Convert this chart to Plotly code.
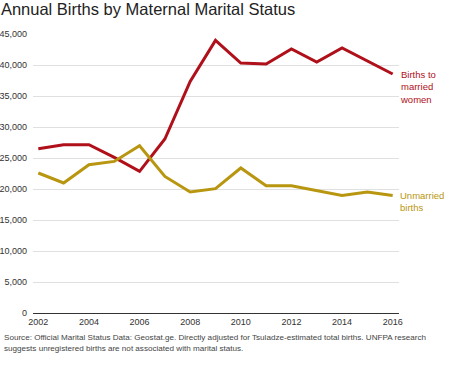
import plotly.graph_objects as go

years = list(range(2002, 2017))
married = [26500, 27150, 27150, 25100, 22850, 28060, 37350, 43970, 40320, 40160, 42580, 40480, 42740, 40700, 38550]
unmarried = [22580, 20970, 23920, 24450, 26980, 22030, 19520, 20050, 23390, 20530, 20530, 19750, 18970, 19520, 18970]
ytick_vals = [0, 5000, 10000, 15000, 20000, 25000, 30000, 35000, 40000, 45000]
ytick_text = ["0", "5,000", "10,000", "15,000", "20,000", "25,000", "30,000", "35,000", "40,000", "45,000"]
xtick_vals = [2002, 2004, 2006, 2008, 2010, 2012, 2014, 2016]

RED = "#b0101a"
GOLD = "#b8960f"
FONT = "Liberation Sans, Arial, sans-serif"

fig = go.Figure()
fig.add_trace(go.Scatter(x=years, y=married, mode="lines", line=dict(color=RED, width=3), hoverinfo="skip"))
fig.add_trace(go.Scatter(x=years, y=unmarried, mode="lines", line=dict(color=GOLD, width=3), hoverinfo="skip"))

fig.update_layout(
    width=450, height=374,
    margin=dict(l=33, r=51, t=34, b=61, autoexpand=False),
    paper_bgcolor="white", plot_bgcolor="white",
    showlegend=False,
    font=dict(family=FONT, size=9, color="#333"),
    title=dict(text="Annual Births by Maternal Marital Status", x=0.002, xref="container", xanchor="left",
               y=0.976, yref="container", yanchor="middle", font=dict(family=FONT, size=16.5, color="#222")),
)

fig.update_xaxes(range=[2001.79, 2016.25], tickvals=xtick_vals, showgrid=False, zeroline=False,
                 showline=True, linecolor="#333", linewidth=1, ticks="", automargin=False,
                 tickfont=dict(size=9, color="#333"))
fig.update_yaxes(range=[0, 45000], tickvals=ytick_vals, ticktext=ytick_text, showgrid=True,
                 gridcolor="#e0e0e0", gridwidth=1, zeroline=False, showline=False, ticks="",
                 automargin=False, ticklabelstandoff=5, tickfont=dict(size=9, color="#333"))

fig.add_annotation(x=2016, y=married[-1], xref="x", yref="y", text="Births to<br>married<br>women",
                   showarrow=False, xanchor="left", yanchor="top", align="left", xshift=5, yshift=7,
                   font=dict(family=FONT, size=9.5, color=RED))
fig.add_annotation(x=2016, y=unmarried[-1], xref="x", yref="y", text="Unmarried<br>births",
                   showarrow=False, xanchor="left", yanchor="top", align="left", xshift=5, yshift=7,
                   font=dict(family=FONT, size=9.5, color=GOLD))
fig.add_annotation(x=-0.085, y=-0.065, xref="paper", yref="paper", xanchor="left", yanchor="top", align="left",
                   showarrow=False,
                   text="Source: Official Marital Status Data: Geostat.ge. Directly adjusted for Tsuladze-estimated total births. UNFPA research<br>suggests unregistered births are not associated with marital status.",
                   font=dict(family=FONT, size=8.1, color="#444"))

fig.write_html("out.html", config={"displayModeBar": False},
               post_script="document.body.style.margin='0';document.body.style.overflow='hidden';")
